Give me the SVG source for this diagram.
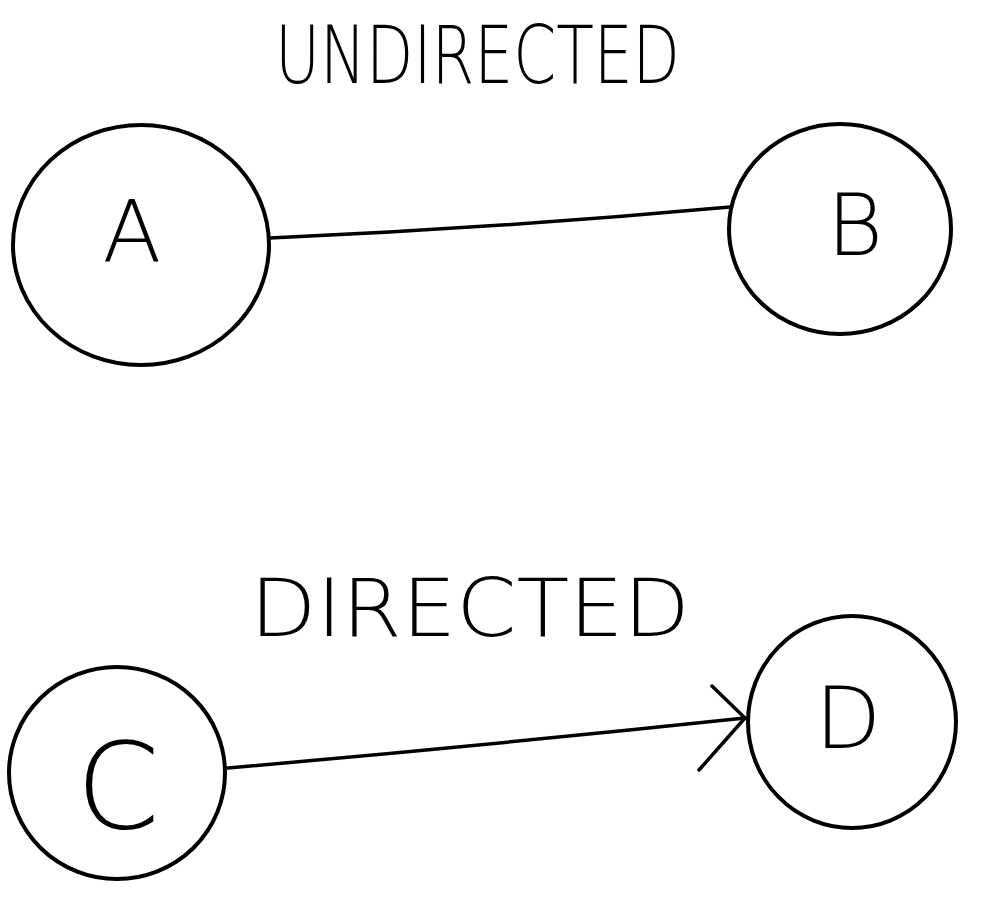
<svg xmlns="http://www.w3.org/2000/svg" width="999" height="901" viewBox="0 0 999 901">
<style>
.node{fill:none;stroke:#000;stroke-width:4}
.edge{fill:none;stroke:#000;stroke-width:3.5;stroke-linecap:round}
.lbl{font-family:"DejaVu Sans","Liberation Sans",sans-serif;font-weight:200;fill:#000;text-anchor:middle}
.title{font-family:"DejaVu Sans","Liberation Sans",sans-serif;font-weight:200;fill:#000}
</style>
<rect width="999" height="901" fill="#fff"/>
<text class="title" x="275" y="83" font-size="80" textLength="405" lengthAdjust="spacingAndGlyphs">UNDIRECTED</text>
<text class="title" x="250" y="636" font-size="80" textLength="440" lengthAdjust="spacingAndGlyphs">DIRECTED</text>
<g id="connectors">
<path class="edge" d="M270 238 Q500 228 730 207"/>
<path class="edge" d="M228 768 Q490 745 745 718"/>
<path class="edge" d="M712 686 L745 718 L699 770"/>
</g>
<g id="nodeA"><ellipse class="node" cx="141" cy="245" rx="128" ry="120"/><text class="lbl" x="132" y="262" font-size="86">A</text></g>
<g id="nodeB"><ellipse class="node" cx="840" cy="229" rx="111" ry="105"/><text class="lbl" x="855" y="255" font-size="86">B</text></g>
<g id="nodeC"><ellipse class="node" cx="117" cy="773" rx="108" ry="106"/><text class="lbl" x="118" y="828" font-size="120">C</text></g>
<g id="nodeD"><ellipse class="node" cx="852" cy="722" rx="104" ry="106"/><text class="lbl" x="848" y="748" font-size="86">D</text></g>
</svg>
